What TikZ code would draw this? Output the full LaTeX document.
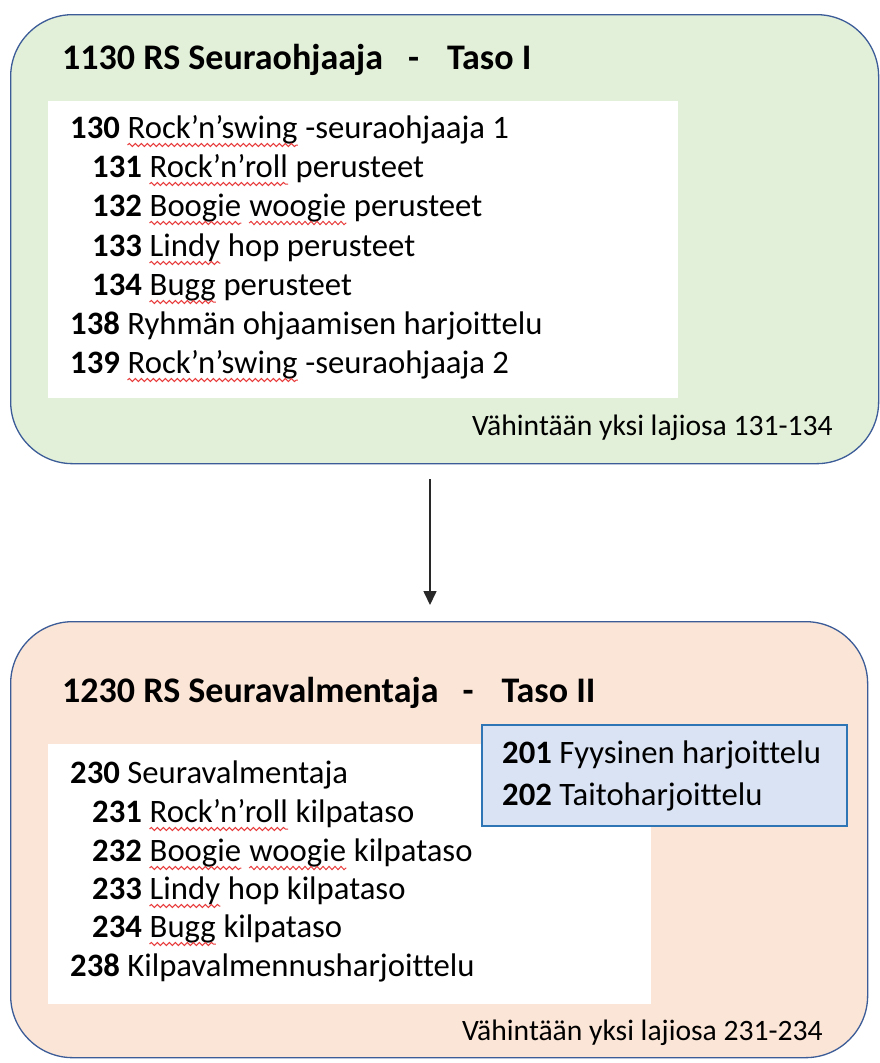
\documentclass[tikz,border=0pt]{standalone}
\usepackage{fontspec}
\setmainfont{Carlito}[Ligatures=NoCommon]
\usetikzlibrary{arrows.meta,decorations.pathmorphing}
\definecolor{panelline}{RGB}{60,92,152}
\definecolor{greenfill}{RGB}{226,239,217}
\definecolor{orangefill}{RGB}{251,229,214}
\definecolor{bluefill}{RGB}{218,227,243}
\definecolor{blueline}{RGB}{46,117,182}
\definecolor{wavered}{RGB}{232,60,60}
\definecolor{arrowgrey}{RGB}{40,40,40}
\tikzset{
  item/.style={anchor=base west, inner sep=0pt, font=\fontsize{32.7}{39}\selectfont},
  ttl/.style={anchor=base west, inner sep=0pt, font=\fontsize{36}{42}\selectfont\bfseries},
  foot/.style={anchor=base east, inner sep=0pt, font=\fontsize{29.6}{35}\selectfont},
  panel/.style={draw=panelline, line width=1.3pt, rounded corners=62pt, anchor=north west, inner sep=0pt},
  sheet/.style={fill=white, anchor=north west, inner sep=0pt},
  conn/.style={draw=arrowgrey, line width=1.6pt, -{Triangle[length=14pt,width=13pt]}},
  squig/.style={draw=wavered, line width=1pt, decorate, decoration={snake, amplitude=1.6pt, segment length=6pt}},
}
\newcommand\wavy[1]{\draw[squig] ([yshift=-7pt]#1.base west) -- ([yshift=-7pt]#1.base east);}
\begin{document}
\begin{tikzpicture}[x=1pt,y=-1pt]
\useasboundingbox (0,0) rectangle (880,1063);
% panels
\node[panel, fill=greenfill, minimum width=868pt, minimum height=449pt] (green) at (10,14) {};
\node[panel, fill=orangefill, minimum width=857pt, minimum height=436pt] (orange) at (10,621) {};
% white sheets
\node[sheet, minimum width=630pt, minimum height=297pt] (gsheet) at (48,101) {};
\node[sheet, minimum width=603pt, minimum height=260pt] (osheet) at (48,744) {};
\node[anchor=north west, inner sep=0pt, fill=bluefill, draw=blueline, line width=1.6pt, minimum width=365pt, minimum height=101pt] (bbox) at (481,724) {};
% titles
\node[ttl] (t1) at (62,69) {1130 RS Seuraohjaaja\hspace{25pt}-\hspace{28pt}Taso I};
\node[ttl] (t2) at (62,702) {1230 RS Seuravalmentaja\hspace{24pt}-\hspace{28pt}Taso II};
% level I items
\node[item] (i130) at (70,138) {\textbf{130}\ \null};
\node[item] (w130) at (i130.base east) {Rock’n’swing};
\node[item] (r130) at (w130.base east) {\ -seuraohjaaja 1};
\node[item] (i131) at (92,177) {\textbf{131}\ \null};
\node[item] (w131) at (i131.base east) {Rock’n’roll};
\node[item] (r131) at (w131.base east) {\ perusteet};
\node[item] (i132) at (92,216) {\textbf{132}\ \null};
\node[item] (w132a) at (i132.base east) {Boogie};
\node[item] (s132) at (w132a.base east) {\ \null};
\node[item] (w132b) at (s132.base east) {woogie};
\node[item] (r132) at (w132b.base east) {\ perusteet};
\node[item] (i133) at (92,256) {\textbf{133}\ \null};
\node[item] (w133) at (i133.base east) {Lindy};
\node[item] (r133) at (w133.base east) {\ hop perusteet};
\node[item] (i134) at (92,295) {\textbf{134}\ \null};
\node[item] (w134) at (i134.base east) {Bugg};
\node[item] (r134) at (w134.base east) {\ perusteet};
\node[item] (i138) at (70,334) {\textbf{138} Ryhmän ohjaamisen harjoittelu};
\node[item] (i139) at (70,373) {\textbf{139}\ \null};
\node[item] (w139) at (i139.base east) {Rock’n’swing};
\node[item] (r139) at (w139.base east) {\ -seuraohjaaja 2};
\node[foot] (f1) at (833,435) {Vähintään yksi lajiosa 131-134};
% level II items
\node[item] (i230) at (70,783) {\textbf{230} Seuravalmentaja};
\node[item] (i231) at (92,822) {\textbf{231}\ \null};
\node[item] (w231) at (i231.base east) {Rock’n’roll};
\node[item] (r231) at (w231.base east) {\ kilpataso};
\node[item] (i232) at (92,861) {\textbf{232}\ \null};
\node[item] (w232a) at (i232.base east) {Boogie};
\node[item] (s232) at (w232a.base east) {\ \null};
\node[item] (w232b) at (s232.base east) {woogie};
\node[item] (r232) at (w232b.base east) {\ kilpataso};
\node[item] (i233) at (92,899) {\textbf{233}\ \null};
\node[item] (w233) at (i233.base east) {Lindy};
\node[item] (r233) at (w233.base east) {\ hop kilpataso};
\node[item] (i234) at (92,937) {\textbf{234}\ \null};
\node[item] (w234) at (i234.base east) {Bugg};
\node[item] (r234) at (w234.base east) {\ kilpataso};
\node[item] (i238) at (70,976) {\textbf{238} Kilpavalmennusharjoittelu};
\node[item] (i201) at (502,763) {\textbf{201} Fyysinen harjoittelu};
\node[item] (i202) at (502,805) {\textbf{202} Taitoharjoittelu};
\node[foot] (f2) at (823,1040) {Vähintään yksi lajiosa 231-234};
% spell-check underlines
\wavy{w130} \wavy{w131} \wavy{w132a} \wavy{w132b} \wavy{w133} \wavy{w134} \wavy{w139}
\wavy{w231} \wavy{w232a} \wavy{w232b} \wavy{w233} \wavy{w234}
% connector
\coordinate (ax) at (430,0);
\draw[conn, shorten <=15pt, shorten >=16pt] (green.south -| ax) -- (orange.north -| ax);
\end{tikzpicture}
\end{document}
